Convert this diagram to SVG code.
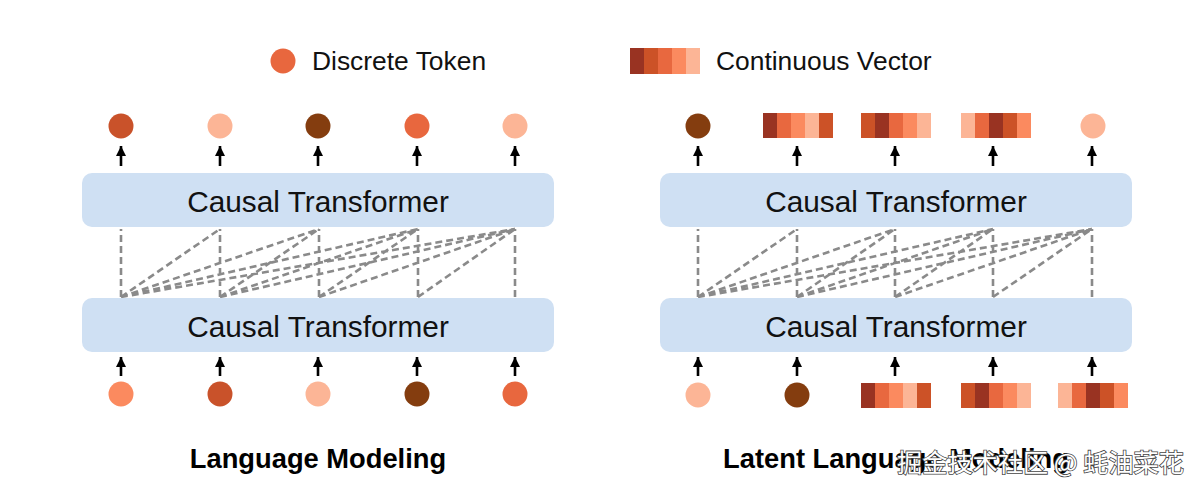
<svg xmlns="http://www.w3.org/2000/svg" width="1200" height="495" viewBox="0 0 1200 495">
<defs>
<marker id="ah" markerWidth="12" markerHeight="10" refX="10" refY="5" orient="auto" markerUnits="userSpaceOnUse">
<path d="M0,0 L10,5 L0,10 Z" fill="#000"/>
</marker>
</defs>
<style>
.box{fill:#cfe0f3}
.bt{font-family:"Liberation Sans",Arial,sans-serif;font-size:29.8px;fill:#111;text-anchor:middle}
.lg{font-family:"Liberation Sans",Arial,sans-serif;font-size:26.4px;fill:#111}
.tt{font-family:"Liberation Sans",Arial,sans-serif;font-size:27.3px;font-weight:bold;fill:#000;text-anchor:middle}
.ar{stroke:#000;stroke-width:2.6;fill:none;marker-end:url(#ah)}
.dl{stroke:#8a8a8a;stroke-width:2.6;stroke-dasharray:7 4;fill:none}
.c1{fill:#843d0f}.c2{fill:#c9522a}.c3{fill:#e8673e}.c4{fill:#fb8a5f}.c5{fill:#fcb596}
.v1{fill:#993322}.v2{fill:#cc5227}.v3{fill:#e8683f}.v4{fill:#fb8a5f}.v5{fill:#fcb596}
.wm{font-family:"Noto Sans CJK SC",sans-serif;font-size:25.2px;fill:#fff;stroke:#444;stroke-width:1.6;paint-order:stroke}
</style>
<rect width="1200" height="495" fill="#fff"/>

<g id="legend">
<circle cx="283" cy="61" r="12.5" class="c3"/>
<text x="312" y="70" class="lg">Discrete Token</text>
<rect x="630" y="48" width="14" height="26" class="v1"/>
<rect x="644" y="48" width="14" height="26" class="v2"/>
<rect x="658" y="48" width="14" height="26" class="v3"/>
<rect x="672" y="48" width="14" height="26" class="v4"/>
<rect x="686" y="48" width="14" height="26" class="v5"/>
<text x="716" y="70" class="lg">Continuous Vector</text>
</g>

<g id="connectors">
<line x1="121" y1="166" x2="121" y2="146" class="ar"/>
<line x1="220" y1="166" x2="220" y2="146" class="ar"/>
<line x1="318" y1="166" x2="318" y2="146" class="ar"/>
<line x1="417" y1="166" x2="417" y2="146" class="ar"/>
<line x1="515" y1="166" x2="515" y2="146" class="ar"/>
<line x1="121" y1="376" x2="121" y2="357" class="ar"/>
<line x1="220" y1="376" x2="220" y2="357" class="ar"/>
<line x1="318" y1="376" x2="318" y2="357" class="ar"/>
<line x1="417" y1="376" x2="417" y2="357" class="ar"/>
<line x1="515" y1="376" x2="515" y2="357" class="ar"/>
<line x1="698" y1="166" x2="698" y2="146" class="ar"/>
<line x1="797" y1="166" x2="797" y2="146" class="ar"/>
<line x1="895" y1="166" x2="895" y2="146" class="ar"/>
<line x1="993" y1="166" x2="993" y2="146" class="ar"/>
<line x1="1092" y1="166" x2="1092" y2="146" class="ar"/>
<line x1="698" y1="376" x2="698" y2="357" class="ar"/>
<line x1="797" y1="376" x2="797" y2="357" class="ar"/>
<line x1="895" y1="376" x2="895" y2="357" class="ar"/>
<line x1="993" y1="376" x2="993" y2="357" class="ar"/>
<line x1="1092" y1="376" x2="1092" y2="357" class="ar"/>
<path class="dl" d="M121,297V229 M220,297V229 M319,297V229 M418,297V229 M515,297V229
M121,297L220,229 M121,297L319,229 M121,297L418,229 M121,297L515,229
M220,297L319,229 M220,297L418,229 M220,297L515,229
M319,297L418,229 M319,297L515,229
M418,297L515,229"/>
<path class="dl" d="M698,297V229 M797,297V229 M895,297V229 M993,297V229 M1092,297V229
M698,297L797,229 M698,297L895,229 M698,297L993,229 M698,297L1092,229
M797,297L895,229 M797,297L993,229 M797,297L1092,229
M895,297L993,229 M895,297L1092,229
M993,297L1092,229"/>
</g>

<g id="left-top-transformer">
<rect x="82" y="173" width="472" height="54" rx="10" class="box"/>
<text x="318" y="212" class="bt">Causal Transformer</text>
</g>
<g id="left-bottom-transformer">
<rect x="82" y="298" width="472" height="54" rx="10" class="box"/>
<text x="318" y="337" class="bt">Causal Transformer</text>
</g>
<g id="right-top-transformer">
<rect x="660" y="173" width="472" height="54" rx="10" class="box"/>
<text x="896" y="212" class="bt">Causal Transformer</text>
</g>
<g id="right-bottom-transformer">
<rect x="660" y="298" width="472" height="54" rx="10" class="box"/>
<text x="896" y="337" class="bt">Causal Transformer</text>
</g>

<g id="left-outputs">
<circle cx="121" cy="126" r="12.5" class="c2"/>
<circle cx="220" cy="126" r="12.5" class="c5"/>
<circle cx="318" cy="126" r="12.5" class="c1"/>
<circle cx="417" cy="126" r="12.5" class="c3"/>
<circle cx="515" cy="126" r="12.5" class="c5"/>
</g>
<g id="left-inputs">
<circle cx="121" cy="394" r="12.5" class="c4"/>
<circle cx="220" cy="394" r="12.5" class="c2"/>
<circle cx="318" cy="394" r="12.5" class="c5"/>
<circle cx="417" cy="394" r="12.5" class="c1"/>
<circle cx="515" cy="394" r="12.5" class="c3"/>
</g>

<g id="right-outputs">
<circle cx="698" cy="126" r="12.5" class="c1"/>
<rect x="763" y="113" width="14" height="25" class="v1"/>
<rect x="777" y="113" width="14" height="25" class="v3"/>
<rect x="791" y="113" width="14" height="25" class="v4"/>
<rect x="805" y="113" width="14" height="25" class="v5"/>
<rect x="819" y="113" width="14" height="25" class="v2"/>
<rect x="861" y="113" width="14" height="25" class="v2"/>
<rect x="875" y="113" width="14" height="25" class="v1"/>
<rect x="889" y="113" width="14" height="25" class="v3"/>
<rect x="903" y="113" width="14" height="25" class="v4"/>
<rect x="917" y="113" width="14" height="25" class="v5"/>
<rect x="961" y="113" width="14" height="25" class="v5"/>
<rect x="975" y="113" width="14" height="25" class="v3"/>
<rect x="989" y="113" width="14" height="25" class="v1"/>
<rect x="1003" y="113" width="14" height="25" class="v2"/>
<rect x="1017" y="113" width="14" height="25" class="v4"/>
<circle cx="1093" cy="126" r="12.5" class="c5"/>
</g>
<g id="right-inputs">
<circle cx="698" cy="395" r="12.5" class="c5"/>
<circle cx="797" cy="395" r="12.5" class="c1"/>
<rect x="861" y="383" width="14" height="25" class="v1"/>
<rect x="875" y="383" width="14" height="25" class="v3"/>
<rect x="889" y="383" width="14" height="25" class="v4"/>
<rect x="903" y="383" width="14" height="25" class="v5"/>
<rect x="917" y="383" width="14" height="25" class="v2"/>
<rect x="961" y="383" width="14" height="25" class="v2"/>
<rect x="975" y="383" width="14" height="25" class="v1"/>
<rect x="989" y="383" width="14" height="25" class="v3"/>
<rect x="1003" y="383" width="14" height="25" class="v4"/>
<rect x="1017" y="383" width="14" height="25" class="v5"/>
<rect x="1058" y="383" width="14" height="25" class="v5"/>
<rect x="1072" y="383" width="14" height="25" class="v3"/>
<rect x="1086" y="383" width="14" height="25" class="v1"/>
<rect x="1100" y="383" width="14" height="25" class="v2"/>
<rect x="1114" y="383" width="14" height="25" class="v4"/>
</g>

<g id="titles">
<text x="318" y="468" class="tt">Language Modeling</text>
<text x="896" y="468" class="tt">Latent Language Modeling</text>
</g>
<g id="watermark">
<text x="897" y="472" class="wm">掘金技术社区 @ 蚝油菜花</text>
</g>
</svg>
